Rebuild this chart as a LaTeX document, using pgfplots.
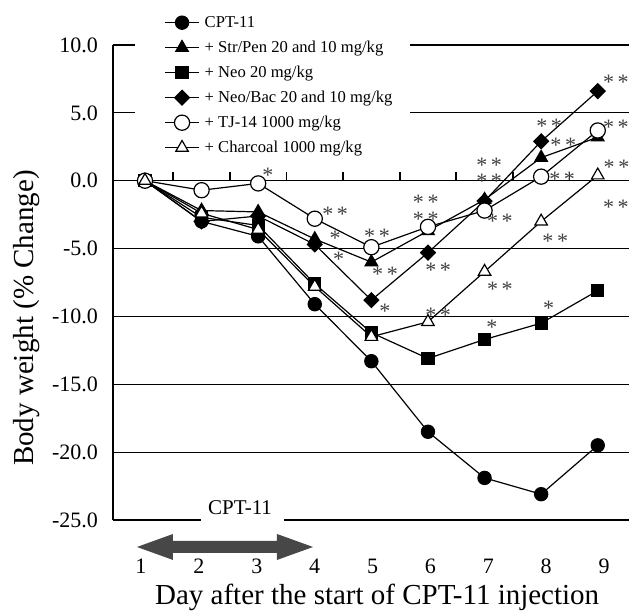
\documentclass[border=0pt]{standalone}
\usepackage{pgfplots}
\pgfplotsset{compat=1.18}
\usepackage{fontspec}
\setmainfont{Liberation Serif}

\newcommand{\st}[3]{\node[font=\fontsize{11}{12}\selectfont, text=black!75, inner sep=0pt, yshift=-2.2pt] at (axis cs:#1,#2) {#3};}
\newcommand{\stt}[2]{\node[font=\fontsize{11}{6}\selectfont, text=black!75, inner sep=0pt, align=center, yshift=-2.2pt] at (axis cs:#1,#2) {*\,*\\*\,*};}

\begin{document}
\begin{tikzpicture}
\useasboundingbox (0,0) rectangle (314.5pt,306.5pt);
\begin{axis}[
  at={(56.5pt,46.5pt)}, anchor=south west,
  scale only axis, width=258pt, height=237.5pt,
  xmin=0.435, xmax=9.552, ymin=-25, ymax=10,
  clip=false,
  axis x line*=bottom, axis y line*=left,
  x axis line style={draw=none},
  y axis line style={line width=0.6pt},
  xtick={0.929,1.952,2.975,3.998,5.021,6.044,7.066,8.089,9.112},
  xticklabels={1,2,3,4,5,6,7,8,9},
  ytick={-20,-15,-10,-5,0,5,10},
  yticklabels={-20.0,-15.0,-10.0,-5.0,0.0,5.0,10.0},
  extra y ticks={-25}, extra y tick labels={-25.0},
  extra y tick style={ymajorgrids=false},
  ymajorgrids,
  major grid style={black, line width=0.6pt},
  major tick length=0pt,
  tick style={draw=none},
  /pgf/number format/assume math mode=true,
  ticklabel style={font=\fontsize{11}{12}\selectfont},
  xticklabel style={anchor=center, yshift=-23pt},
  yticklabel style={anchor=east, xshift=-4pt},
  xlabel={Day after the start of CPT-11 injection},
  ylabel={Body weight (\% Change)},
  xlabel style={at={(axis description cs:0.512,-0.164)}, anchor=center, font=\fontsize{14.5}{17}\selectfont},
  ylabel style={at={(axis description cs:-0.1667,0.425)}, anchor=center, font=\fontsize{14.5}{17}\selectfont},
  legend style={at={(axis description cs:0.0426,1.080)}, anchor=north west, draw=none, fill=white,
    font=\fontsize{8.3}{10}\selectfont, inner xsep=8pt, inner ysep=3pt, row sep=3.2pt, column sep=2pt,
    nodes={inner sep=0.5pt, text height=6.4pt, text depth=1.9pt}},
  legend cell align=left,
  legend image code/.code={\path (-6.5pt,0pt);
    \draw[mark repeat=2,mark phase=2,#1] plot coordinates {(0cm,0cm) (0.3cm,0cm) (0.6cm,0cm)};},
]
% small ticks on the zero line
\addplot[black, line width=0.9pt, forget plot, mark=none, ycomb] coordinates {(1.5,0.65)(2.5,0.65)(3.5,0.65)(4.5,0.65)(5.5,0.65)(6.5,0.65)(7.5,0.65)(8.5,0.65)};
\addplot[black, line width=0.6pt, mark=*, mark size=3.3pt]
  coordinates {(1,0)(2,-3.0)(3,-4.1)(4,-9.1)(5,-13.3)(6,-18.5)(7,-21.9)(8,-23.1)(9,-19.5)};
\addlegendentry{CPT-11}
\addplot[black, line width=0.6pt, mark=triangle*, mark size=3.6pt]
  coordinates {(1,0)(2,-2.2)(3,-2.3)(4,-4.3)(5,-6.0)(6,-3.7)(7,-1.4)(8,1.7)(9,3.2)};
\addlegendentry{+ Str/Pen 20 and 10 mg/kg}
\addplot[black, line width=0.6pt, mark=square*, mark size=3pt]
  coordinates {(1,0)(2,-2.7)(3,-3.3)(4,-7.6)(5,-11.2)(6,-13.1)(7,-11.7)(8,-10.5)(9,-8.1)};
\addlegendentry{+ Neo 20 mg/kg}
\addplot[black, line width=0.6pt, mark=square*, mark size=2.6pt, mark options={rotate=45}]
  coordinates {(1,0)(2,-3.0)(3,-2.6)(4,-4.7)(5,-8.8)(6,-5.3)(7,-1.5)(8,2.9)(9,6.6)};
\addlegendentry{+ Neo/Bac 20 and 10 mg/kg}
\addplot[black, line width=0.6pt, mark=*, mark size=3.8pt, mark options={fill=white}]
  coordinates {(1,0)(2,-0.7)(3,-0.2)(4,-2.8)(5,-4.9)(6,-3.4)(7,-2.2)(8,0.3)(9,3.7)};
\addlegendentry{+ TJ-14 1000 mg/kg}
\addplot[black, line width=0.6pt, mark=triangle*, mark size=3.6pt, mark options={fill=white}]
  coordinates {(1,0)(2,-2.4)(3,-3.6)(4,-7.8)(5,-11.5)(6,-10.4)(7,-6.7)(8,-3.0)(9,0.4)};
\addlegendentry{+ Charcoal 1000 mg/kg}

% bottom line broken by label
\draw[line width=0.6pt] (axis cs:0.435,-25) -- (axis cs:1.99,-25);
\draw[line width=0.6pt] (axis cs:3.456,-25) -- (axis cs:9.552,-25);
\node[anchor=base, inner sep=0pt, font=\fontsize{10.5}{12}\selectfont] at (axis cs:2.68,-25) [yshift=2.5pt] {CPT-11};

% significance marks
\st{3.17}{0.73}{*}
\st{4.36}{-2.18}{*\,*}
\st{4.36}{-3.95}{*}
\st{4.42}{-5.5}{*}
\st{5.10}{-3.78}{*\,*}
\st{5.24}{-6.57}{*\,*}
\st{5.24}{-9.3}{*}
\stt{5.96}{-1.9}
\st{6.18}{-6.25}{*\,*}
\st{6.18}{-9.56}{*\,*}
\stt{7.08}{0.85}
\st{7.27}{-2.67}{*\,*}
\st{7.27}{-7.68}{*\,*}
\st{7.13}{-10.48}{*}
\st{8.14}{4.36}{*\,*}
\st{8.39}{2.9}{*\,*}
\st{8.37}{0.46}{*\,*}
\st{8.25}{-4.12}{*\,*}
\st{8.13}{-9.05}{*}
\st{9.32}{7.56}{*\,*}
\st{9.32}{4.25}{*\,*}
\st{9.33}{1.3}{*\,*}
\st{9.32}{-1.65}{*\,*}
\end{axis}
% dosing arrow
\fill[black!72] (68.5pt,33pt) -- (86.5pt,39.5pt) -- (86.5pt,36pt) -- (138.5pt,36pt) -- (138.5pt,39.5pt)
  -- (156.5pt,33pt) -- (138.5pt,26.5pt) -- (138.5pt,30pt) -- (86.5pt,30pt) -- (86.5pt,26.5pt) -- cycle;
\end{tikzpicture}
\end{document}
